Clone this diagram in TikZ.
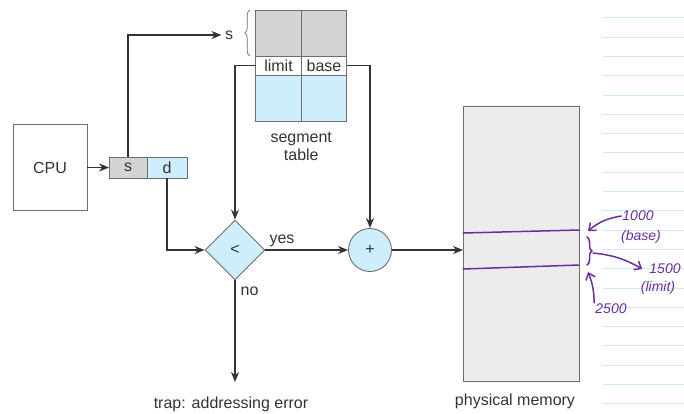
\documentclass[tikz,border=0pt]{standalone}
\usepackage{fontspec}
\setmainfont{Liberation Sans}
\usetikzlibrary{positioning, arrows.meta, shapes.geometric, decorations.pathreplacing}
\definecolor{inkgray}{HTML}{333333}
\definecolor{linegray}{HTML}{6E6E6E}
\definecolor{cellgray}{HTML}{D4D4D6}
\definecolor{cellblue}{HTML}{CFEEFB}
\definecolor{memgray}{HTML}{ECECEE}
\definecolor{penpurple}{HTML}{6A2E9E}
\definecolor{ruleblue}{HTML}{D3EAF7}

\begin{document}
\begin{tikzpicture}[
            x=1pt, y=-1pt,
            font=\fontsize{16}{18}\selectfont, text=inkgray,
            box/.style={rectangle, draw=linegray, line width=0.9pt, inner sep=0pt, outer sep=0pt},
            cell/.style={box, minimum height=21pt},
            tcell/.style={box, minimum width=45.5pt},
            arrow/.style={-{Stealth[length=10pt, width=8pt]}, line width=1.2pt, draw=inkgray},
            pen/.style={draw=penpurple, line width=1.5pt, line cap=round, line join=round},
            penarrow/.style={pen, -{Straight Barb[length=6pt, width=10pt]}},
            hand/.style={text=penpurple, font=\fontsize{14}{16}\selectfont\itshape, inner sep=1pt},
            rule/.style={draw=ruleblue, line width=1pt},
        ]
            \useasboundingbox (0,0) rectangle (684,413);

            % Ruled notebook paper on the right
            \foreach \k in {0,...,20}
                \draw[rule] (602,17.8+19.3*\k) -- (684,17.8+19.3*\k);

            % CPU and logical address
            \node[box, minimum width=74pt, minimum height=86pt] (cpu) at (50,167.5) {CPU};
            \node[cell, fill=cellgray, minimum width=38pt] (scell) at (128,167.5) {s};
            \node[cell, fill=cellblue, minimum width=40pt, right=0pt of scell] (dcell) {d};

            % Segment table
            \node[tcell, fill=cellgray, minimum height=46pt] (glimit) at (278.5,33) {};
            \node[tcell, fill=cellgray, minimum height=46pt, right=0pt of glimit] (gbase) {};
            \node[tcell, minimum height=19pt, below=0pt of glimit] (limit) {limit};
            \node[tcell, minimum height=19pt, below=0pt of gbase] (base) {base};
            \node[tcell, fill=cellblue, minimum height=46pt, below=0pt of limit] (blimit) {};
            \node[tcell, fill=cellblue, minimum height=46pt, below=0pt of base] (bbase) {};
            \node[align=center, below=8pt of blimit.south east] (tbllbl) {segment\\table};

            \node (sidx) at (229,35) {s};
            \draw[decorate, decoration={brace, amplitude=5pt}, line width=0.7pt, draw=linegray]
                ([xshift=-6pt]glimit.south west) -- ([xshift=-6pt]glimit.north west);

            % Compare and add
            \node[diamond, draw=linegray, line width=0.9pt, fill=cellblue, minimum width=60pt,
                  minimum height=60pt, inner sep=0pt] (cmp) at (235,250) {<};
            \node[circle, draw=linegray, line width=0.9pt, fill=cellblue, minimum size=43pt,
                  inner sep=0pt] (adder) at (370,250) {+};

            % Physical memory
            \node[box, fill=memgray, minimum width=116pt, minimum height=275pt] (mem) at (521,243.5) {};
            \node (memlbl) at (515,401) {physical memory};
            \node (trap) at (231,404) {trap: addressing error};

            \draw[arrow] (cpu.east) -- (scell.west);
            \draw[arrow] (scell.north) |- (sidx.west);
            \draw[arrow] (dcell.south) |- (cmp.west);
            \draw[arrow] (limit.west) -| (cmp.north);
            \draw[arrow] (base.east) -| (adder.north);
            \draw[arrow] (cmp.east) -- node[pos=0.2, above=3pt, inner sep=0pt] {yes} (adder.west);
            \draw[arrow, shorten >=11pt] (cmp.south) -- node[pos=0.1, right=5pt, inner sep=0pt] {no} (cmp.south |- trap.north);
            \draw[arrow] (adder.east) -- (adder.east -| mem.west);

            % Pen notes: base and limit marks
            \coordinate (topmark) at (588,231);
            \coordinate (lowmark) at (588,272);
            \draw[pen] (mem.west |- 0,233) -- (mem.east |- 0,230);
            \draw[pen] (mem.west |- 0,269) -- (mem.east |- 0,265);
            \draw[pen, decorate, decoration={brace, amplitude=5pt}] (587,237) -- (587,265);

            \node[hand] (n1000) at (638,216) {1000};
            \node[hand] (nbase) at (641,237) {(base)};
            \node[hand] (n1500) at (665,269) {1500};
            \node[hand] (nlimit) at (658,288) {(limit)};
            \node[hand] (n2500) at (611,309) {2500};

            \draw[penarrow] (n1000.west) to[bend right=15] (topmark);
            \draw[penarrow] (593,253) to[bend left=12] ([xshift=-6pt]n1500.west);
            \draw[penarrow] (n2500.north west) to[bend right=10] (lowmark);
        \end{tikzpicture}
\end{document}
